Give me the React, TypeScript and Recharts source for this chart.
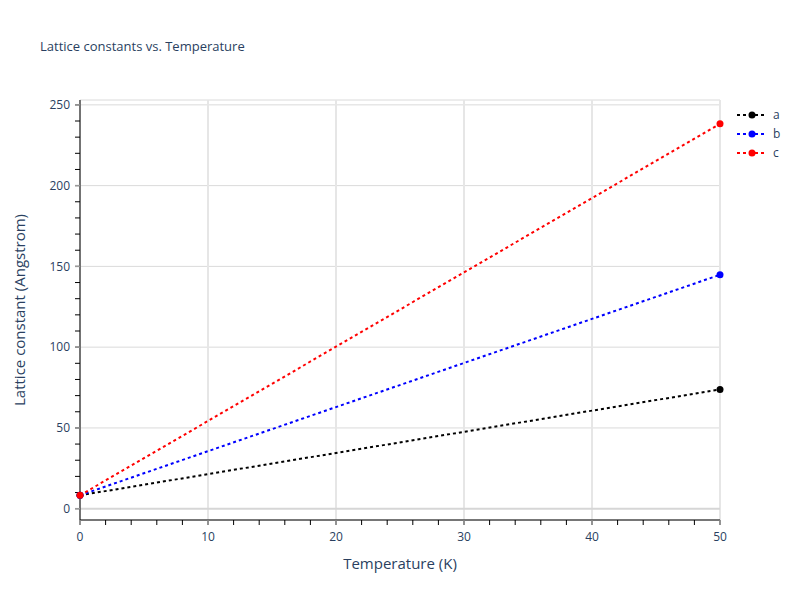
import React from 'react';
import { LineChart, Line, XAxis, YAxis, CartesianGrid, ReferenceLine } from 'recharts';

// values
const temperature = [0, 50];
const latticeA = [8.3, 73.8];
const latticeB = [8.3, 144.8];
const latticeC = [8.3, 238.3];

const xTicks = [0, 2, 4, 6, 8, 10, 12, 14, 16, 18, 20, 22, 24, 26, 28, 30, 32, 34, 36, 38, 40, 42, 44, 46, 48, 50];
const xMajor = [0, 10, 20, 30, 40, 50];
const yTicks = [0, 10, 20, 30, 40, 50, 60, 70, 80, 90, 100, 110, 120, 130, 140, 150, 160, 170, 180, 190, 200, 210, 220, 230, 240, 250];
const yMajor = [50, 100, 150, 200, 250];

const series = [
  { key: 'a', name: 'a', color: '#000000', values: latticeA },
  { key: 'b', name: 'b', color: '#0000ff', values: latticeB },
  { key: 'c', name: 'c', color: '#ff0000', values: latticeC },
];

const data = temperature.map((t, i) => ({
  t,
  a: latticeA[i],
  b: latticeB[i],
  c: latticeC[i],
}));

const font = '"Open Sans", verdana, arial, sans-serif';
const textColor = '#2a3f5f';
const xDomain = [0, 50];
const yDomain = [-7, 253];

// labels only on the major ticks; major tick marks drawn grey over the black minor ones
const XTick = (props: any) => {
  const { x, y, payload } = props;
  if (payload.value % 10 !== 0) return <g />;
  return (
    <g>
      <line x1={x} x2={x} y1={y - 12} y2={y - 7} stroke="#9a9a9a" strokeWidth={1.5} />
      <text x={x} y={y} dy="0.71em" textAnchor="middle" fill={textColor} fontSize={12} fontFamily={font}>
        {payload.value}
      </text>
    </g>
  );
};

const YTick = (props: any) => {
  const { x, y, payload } = props;
  if (payload.value % 50 !== 0) return <g />;
  return (
    <g>
      <line x1={x + 5} x2={x + 10} y1={y} y2={y} stroke="#9a9a9a" strokeWidth={1.5} />
      <text x={x} y={y} dy="0.355em" textAnchor="end" fill={textColor} fontSize={12} fontFamily={font}>
        {payload.value}
      </text>
    </g>
  );
};

export default function App() {
  return (
    <div style={{ position: 'absolute', left: 0, top: 0, width: 800, height: 600, background: '#fff', fontFamily: font }}>
      <div style={{ position: 'absolute', left: 40, top: 37, fontSize: 13, color: textColor }}>
        Lattice constants vs. Temperature
      </div>
      <LineChart width={800} height={600} data={data} margin={{ top: 100, right: 80, bottom: 0, left: 0 }}>
        {/* hidden axes only used to place the major grid lines */}
        <XAxis xAxisId="grid" type="number" dataKey="t" domain={xDomain} ticks={xMajor} hide />
        <YAxis yAxisId="grid" type="number" domain={yDomain} ticks={yMajor} hide allowDataOverflow />
        <CartesianGrid xAxisId="grid" yAxisId="grid" vertical={false} stroke="#dadada" strokeWidth={1} />
        <CartesianGrid xAxisId="grid" yAxisId="grid" horizontal={false} stroke="#e6e6e6" strokeWidth={2} />
        <ReferenceLine y={0} stroke="#d6d6d6" strokeWidth={2} />
        <XAxis
          dataKey="t"
          type="number"
          domain={xDomain}
          ticks={xTicks}
          interval={0}
          height={80}
          tick={<XTick />}
          tickSize={5}
          tickMargin={7}
          tickLine={{ stroke: '#000' }}
          axisLine={{ stroke: '#000' }}
          label={{ value: 'Temperature (K)', position: 'insideBottom', offset: 31, fill: textColor, fontSize: 15, fontFamily: font }}
        />
        <YAxis
          type="number"
          domain={yDomain}
          ticks={yTicks}
          interval={0}
          width={80}
          tick={<YTick />}
          tickSize={5}
          tickMargin={5}
          tickLine={{ stroke: '#000' }}
          axisLine={{ stroke: '#000' }}
          allowDataOverflow
          label={{
            value: 'Lattice constant (Angstrom)',
            angle: -90,
            position: 'insideLeft',
            offset: 20,
            fill: textColor,
            fontSize: 15,
            fontFamily: font,
            style: { textAnchor: 'middle' },
          }}
        />
        {series.map((s) => (
          <Line
            key={s.key}
            type="linear"
            dataKey={s.key}
            name={s.name}
            stroke={s.color}
            strokeWidth={2}
            strokeDasharray="3 3"
            dot={{ r: 3.5, fill: s.color, stroke: s.color, strokeWidth: 0 }}
            activeDot={false}
            isAnimationActive={false}
          />
        ))}
      </LineChart>
      <div style={{ position: 'absolute', left: 735, top: 105 }}>
        {series.map((s) => (
          <div key={s.key} style={{ display: 'flex', alignItems: 'center', height: 19 }}>
            <svg width={32} height={10} style={{ display: 'block' }}>
              <line x1={2} y1={5} x2={30} y2={5} stroke={s.color} strokeWidth={2} strokeDasharray="3 3" />
              <circle cx={17} cy={5} r={3.5} fill={s.color} />
            </svg>
            <span style={{ marginLeft: 6, fontSize: 12, color: textColor }}>{s.name}</span>
          </div>
        ))}
      </div>
    </div>
  );
}
